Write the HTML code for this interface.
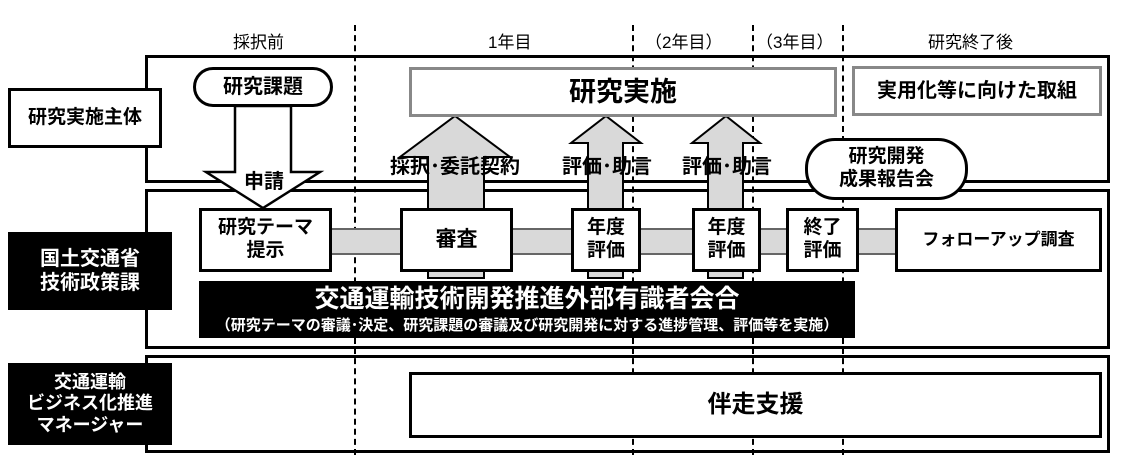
<!DOCTYPE html>
<html><head><meta charset="utf-8"><style>
body{margin:0;background:#fff;width:1127px;height:464px;overflow:hidden;position:relative;font-family:"Liberation Sans","Noto Sans CJK JP",sans-serif;}
.a{position:absolute;box-sizing:border-box;}
.c{display:flex;align-items:center;justify-content:center;text-align:center;font-weight:bold;color:#000;line-height:1.2;white-space:nowrap;}
.bx{border:3px solid #000;background:#fff;}
.blk{background:#000;color:#fff;}
.dash{position:absolute;top:25px;height:430px;width:0;border-left:2px dashed #000;}
.hd{position:absolute;top:28px;font-size:17px;color:#000;}
</style></head><body>
<div class="a" style="left:145px;top:55px;width:965px;height:128px;border:3px solid #000;"></div>
<div class="a" style="left:145px;top:189px;width:965px;height:160px;border:3px solid #000;"></div>
<div class="a" style="left:145px;top:355px;width:965px;height:98px;border:3px solid #000;"></div>

<div class="dash" style="left:354px"></div>
<div class="dash" style="left:632px"></div>
<div class="dash" style="left:752px"></div>
<div class="dash" style="left:842px"></div>

<div class="hd" style="left:233px">採択前</div>
<div class="hd" style="left:488px">1年目</div>
<div class="hd" style="left:645px">（2年目）</div>
<div class="hd" style="left:756px">（3年目）</div>
<div class="hd" style="left:928px">研究終了後</div>

<div class="a c bx" style="left:8px;top:88px;width:154px;height:60px;font-size:19px;">研究実施主体</div>
<div class="a c blk" style="left:8px;top:232px;width:164px;height:78px;font-size:20px;">国土交通省<br>技術政策課</div>
<div class="a c blk" style="left:8px;top:363px;width:164px;height:82px;font-size:18px;">交通運輸<br>ビジネス化推進<br>マネージャー</div>

<div class="a" style="left:330px;top:228px;width:570px;height:27px;background:#d9d9d9;border:2px solid #666;"></div>

<svg class="a" style="left:0;top:0" width="1127" height="464">
<polygon points="235,106 291,106 291,172 320,172 263,208 206,172 235,172" fill="#fff" stroke="#000" stroke-width="2.5"/>
<polygon points="428,278 428,157 400,157 455,116 510,157 484,157 484,278" fill="#d9d9d9" stroke="#000" stroke-width="2"/>
<polygon points="588,278 588,143 571,143 606,116 641,143 623,143 623,278" fill="#d9d9d9" stroke="#000" stroke-width="2"/>
<polygon points="708,278 708,143 692,143 726,116 760,143 743,143 743,278" fill="#d9d9d9" stroke="#000" stroke-width="2"/>
</svg>

<div class="a c" style="left:193px;top:67px;width:140px;height:40px;border:3px solid #000;border-radius:20px;background:#fff;font-size:20px;">研究課題</div>
<div class="a c" style="left:236px;top:170px;width:56px;font-size:20px;">申請</div>
<div class="a c" style="left:409px;top:67px;width:428px;height:50px;border:3px solid #888;background:#fff;font-size:27px;">研究実施</div>
<div class="a c" style="left:852px;top:66px;width:250px;height:50px;border:3px solid #888;background:#fff;font-size:20px;">実用化等に向けた取組</div>

<div class="a c" style="left:378px;top:155px;width:154px;height:24px;font-size:20px;">採択･委託契約</div>
<div class="a c" style="left:553px;top:155px;width:108px;height:24px;font-size:20px;">評価･助言</div>
<div class="a c" style="left:673px;top:155px;width:108px;height:24px;font-size:20px;">評価･助言</div>

<div class="a c" style="left:805px;top:138px;width:163px;height:62px;border:3px solid #000;border-radius:30px;background:#fff;font-size:19px;">研究開発<br>成果報告会</div>

<div class="a c bx" style="left:199px;top:208px;width:133px;height:64px;font-size:19px;">研究テーマ<br>提示</div>
<div class="a c bx" style="left:400px;top:208px;width:113px;height:64px;font-size:21px;">審査</div>
<div class="a c bx" style="left:571px;top:208px;width:70px;height:64px;font-size:19px;">年度<br>評価</div>
<div class="a c bx" style="left:692px;top:208px;width:69px;height:64px;font-size:19px;">年度<br>評価</div>
<div class="a c bx" style="left:786px;top:208px;width:73px;height:64px;font-size:19px;">終了<br>評価</div>
<div class="a c bx" style="left:895px;top:208px;width:207px;height:64px;font-size:17px;">フォローアップ調査</div>

<div class="a blk" style="left:199px;top:281px;width:656px;height:57px;"></div>
<div class="a c" style="left:199px;top:283px;width:656px;height:32px;font-size:25px;color:#fff;">交通運輸技術開発推進外部有識者会合</div>
<div class="a c" style="left:199px;top:316px;width:656px;height:20px;font-size:15px;color:#fff;">（研究テーマの審議･決定、研究課題の審議及び研究開発に対する進捗管理、評価等を実施）</div>

<div class="a c bx" style="left:409px;top:372px;width:693px;height:66px;font-size:24px;">伴走支援</div>
</body></html>
